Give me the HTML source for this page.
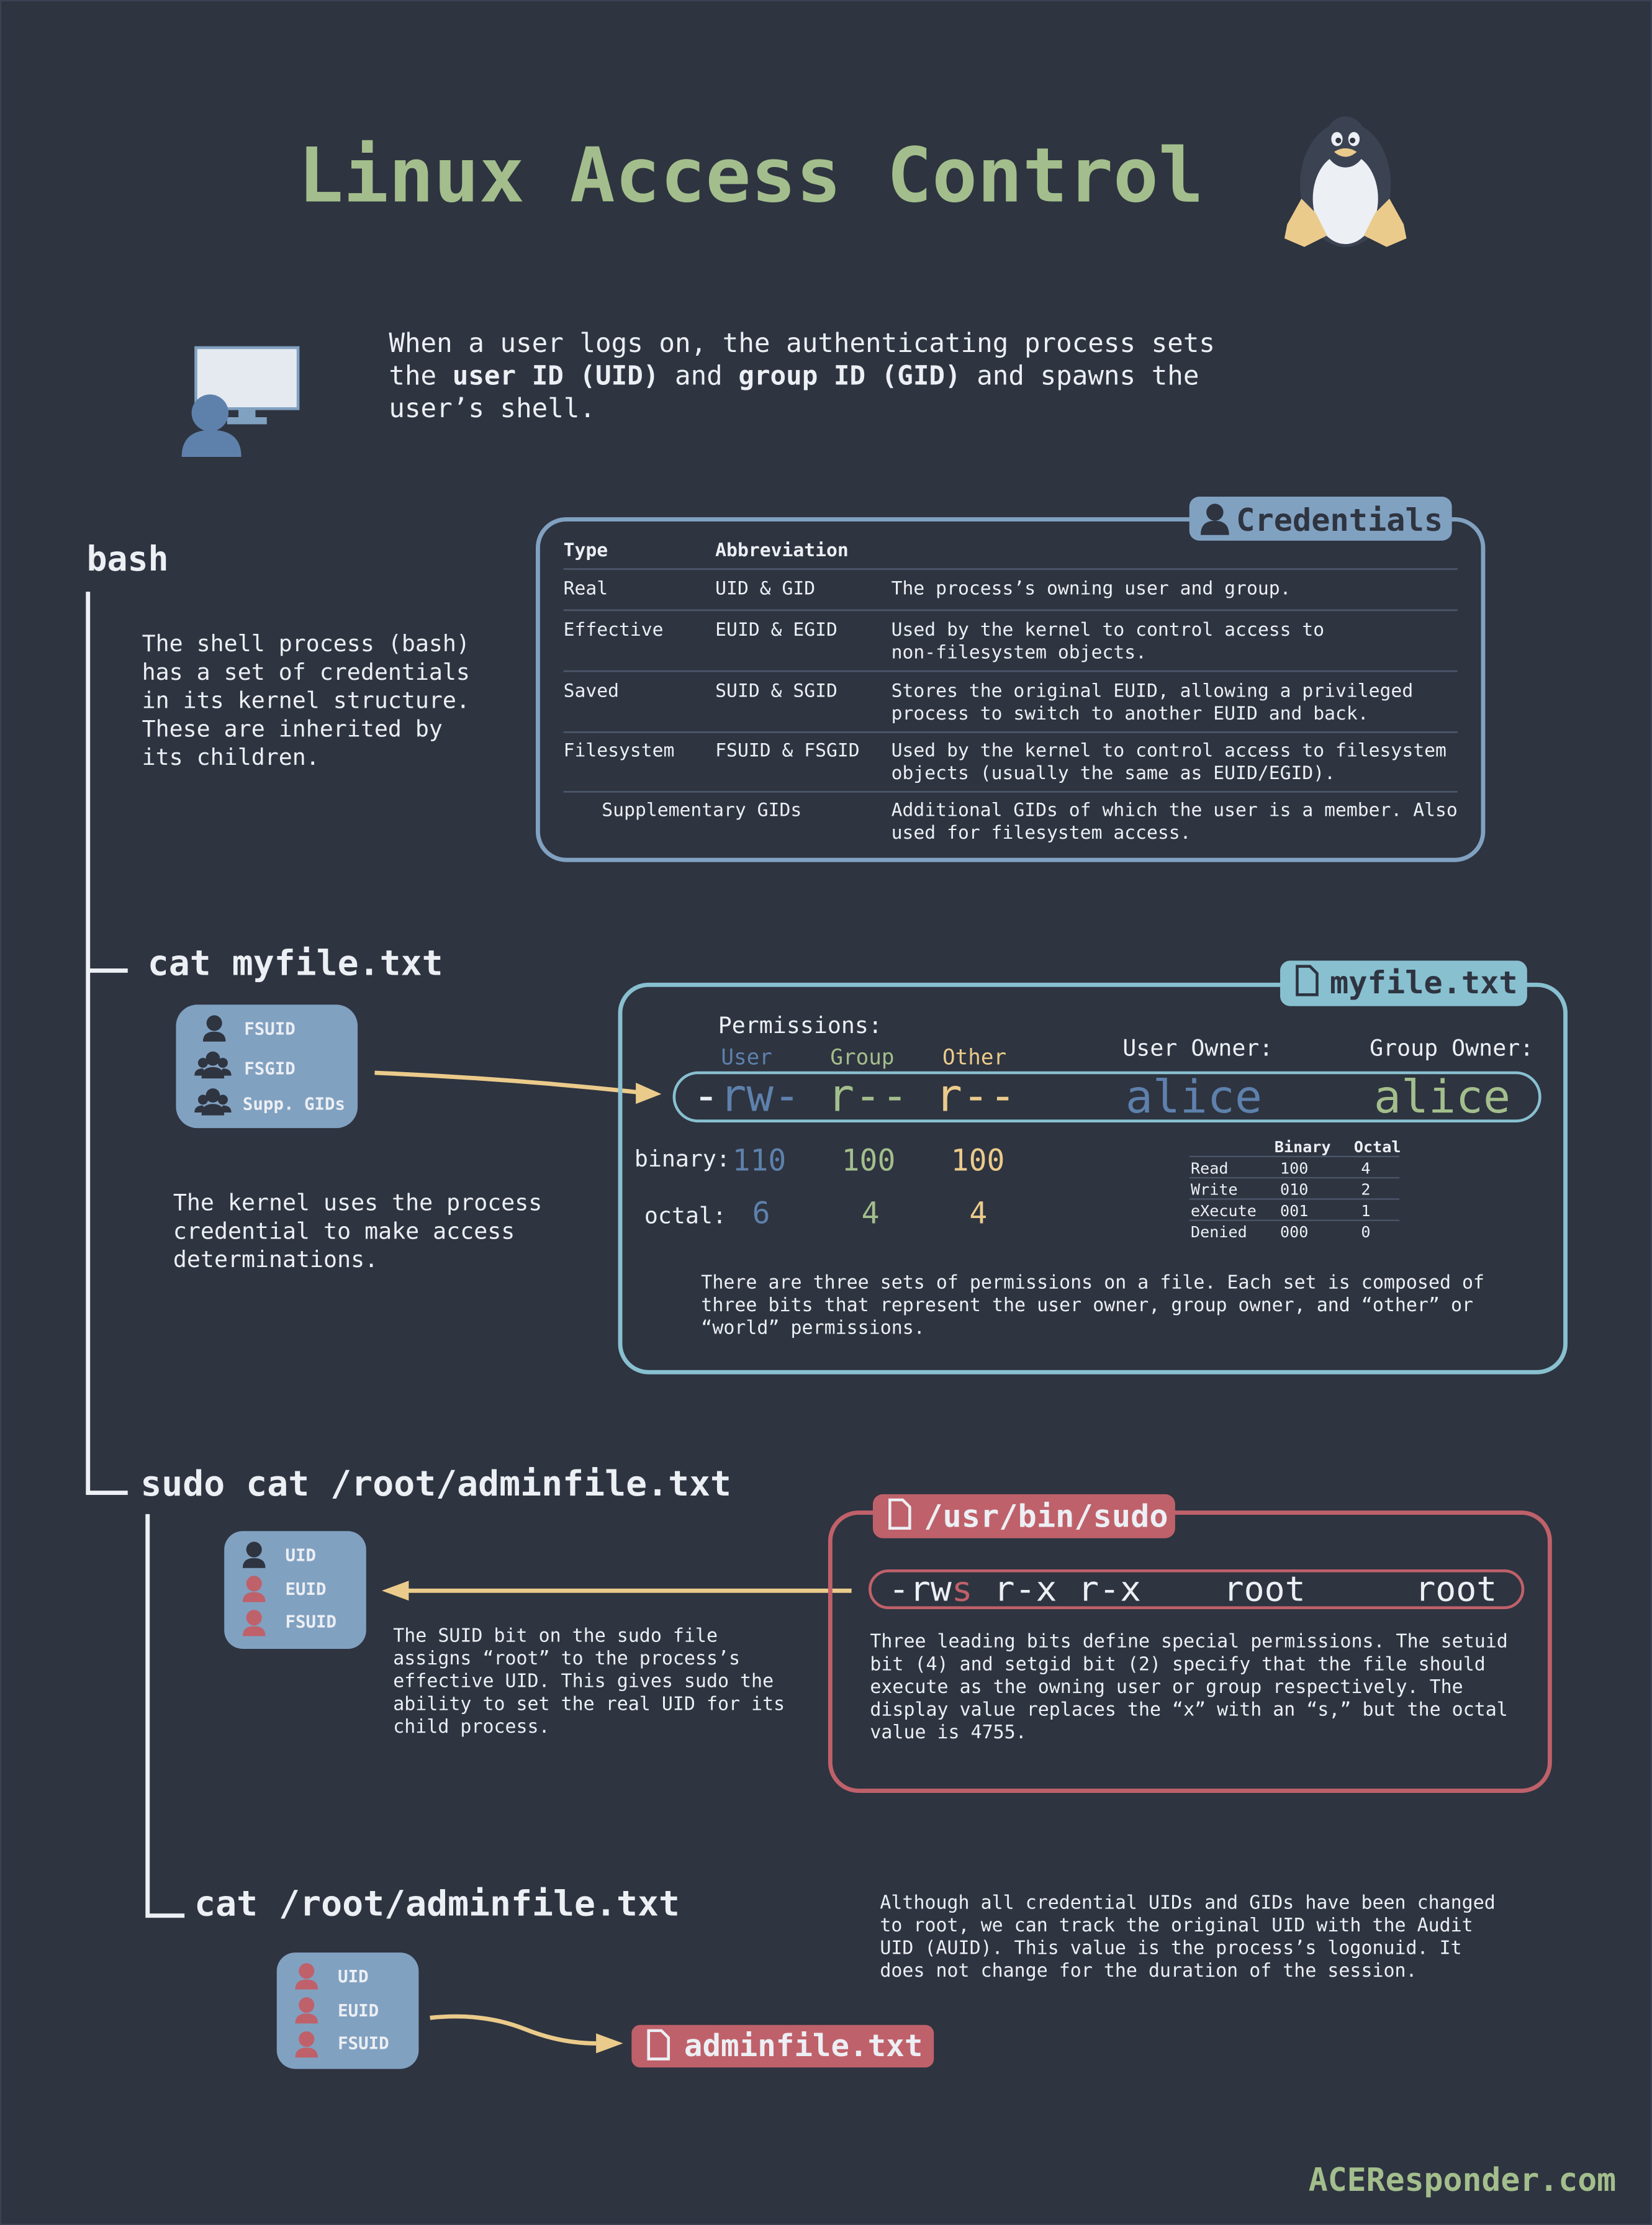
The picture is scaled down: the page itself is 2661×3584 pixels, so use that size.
<!DOCTYPE html>
<html><head><meta charset="utf-8"><style>
html,body{margin:0;padding:0;background:#2e3440;}
svg{display:block}
text{font-family:"DejaVu Sans Mono","Liberation Mono",monospace;fill:#eceff4;}
</style></head><body>
<svg width="2661" height="3584" viewBox="0 0 1164 1568" preserveAspectRatio="none" xmlns="http://www.w3.org/2000/svg">
<rect x="0" y="0" width="1164" height="1568" fill="#2e3440"/>
<rect x="0.5" y="0.5" width="1163" height="1567" fill="none" stroke="#3b4252" stroke-width="1"/>

<text x="210" y="142" font-size="53" font-weight="bold" style="fill:#a3be8c">Linux Access Control</text>

<g transform="translate(905,78)">
<ellipse cx="43" cy="52" rx="32" ry="44" fill="#3b4252"/>
<ellipse cx="43" cy="62" rx="23" ry="32" fill="#eceff4"/>
<ellipse cx="43" cy="22" rx="15" ry="18" fill="#3b4252"/>
<ellipse cx="37" cy="20" rx="4" ry="5" fill="#eceff4"/><ellipse cx="49" cy="20" rx="4" ry="5" fill="#eceff4"/>
<circle cx="38" cy="21" r="2" fill="#2e3440"/><circle cx="48" cy="21" r="2" fill="#2e3440"/>
<path d="M35 29 Q43 24 51 29 Q43 36 35 29Z" fill="#ebcb8b"/>
<path d="M2 80 L12 62 L22 72 L30 88 L14 96 L0 90Z" fill="#ebcb8b"/>
<path d="M84 80 L74 62 L64 72 L56 88 L72 96 L86 90Z" fill="#ebcb8b"/>
</g>

<g>
<rect x="138" y="245" width="72" height="43" fill="#e5e9f0" stroke="#81a1c1" stroke-width="2"/>
<rect x="168" y="288" width="12" height="7" fill="#81a1c1"/>
<rect x="160" y="294" width="28" height="5" fill="#81a1c1"/>
<circle cx="148" cy="291" r="13" fill="#5e81ac"/>
<path d="M128 322 Q128 303 149 303 Q170 303 170 322Z" fill="#5e81ac"/>
</g>
<text x="274" y="248" font-size="18.6">When a user logs on, the authenticating process sets</text>
<text x="274" y="271" font-size="18.6">the <tspan font-weight="bold">user ID (UID)</tspan> and <tspan font-weight="bold">group ID (GID)</tspan> and spawns the</text>
<text x="274" y="294" font-size="18.6">user’s shell.</text>

<g stroke="#eceff4" stroke-width="3" fill="none">
<path d="M62 417 V1052 H90"/>
<path d="M62 684 H90"/>
<path d="M104 1067 V1350 H130"/>
</g>

<text x="61" y="402" font-size="24" font-weight="bold">bash</text>
<text x="100" y="459" font-size="16">The shell process (bash)</text>
<text x="100" y="479" font-size="16">has a set of credentials</text>
<text x="100" y="499" font-size="16">in its kernel structure.</text>
<text x="100" y="519" font-size="16">These are inherited by</text>
<text x="100" y="539" font-size="16">its children.</text>

<rect x="379" y="366" width="666" height="240" rx="20" fill="none" stroke="#81a1c1" stroke-width="3"/>
<rect x="838" y="350" width="185" height="31" rx="7" fill="#81a1c1"/>
<circle cx="856" cy="361" r="6" fill="#2e3440"/><path d="M846 377 Q846 367 856 367 Q866 367 866 377Z" fill="#2e3440"/>
<text x="871" y="374" font-size="22" font-weight="bold" style="fill:#2e3440">Credentials</text>
<g font-size="13">
<text x="397" y="392" font-weight="bold">Type</text><text x="504" y="392" font-weight="bold">Abbreviation</text>
<text x="397" y="419">Real</text><text x="504" y="419">UID &amp; GID</text><text x="628" y="419">The process’s owning user and group.</text>
<text x="397" y="448">Effective</text><text x="504" y="448">EUID &amp; EGID</text><text x="628" y="448">Used by the kernel to control access to</text><text x="628" y="464">non-filesystem objects.</text>
<text x="397" y="491">Saved</text><text x="504" y="491">SUID &amp; SGID</text><text x="628" y="491">Stores the original EUID, allowing a privileged</text><text x="628" y="507">process to switch to another EUID and back.</text>
<text x="397" y="533">Filesystem</text><text x="504" y="533">FSUID &amp; FSGID</text><text x="628" y="533">Used by the kernel to control access to filesystem</text><text x="628" y="549">objects (usually the same as EUID/EGID).</text>
<text x="424" y="575">Supplementary GIDs</text><text x="628" y="575">Additional GIDs of which the user is a member. Also</text><text x="628" y="591">used for filesystem access.</text>
</g>
<g stroke="#4c566a" stroke-width="1.2">
<line x1="397" y1="401" x2="1027" y2="401"/><line x1="397" y1="430" x2="1027" y2="430"/>
<line x1="397" y1="473" x2="1027" y2="473"/><line x1="397" y1="516" x2="1027" y2="516"/>
<line x1="397" y1="558" x2="1027" y2="558"/>
</g>

<text x="104" y="687" font-size="24.7" font-weight="bold">cat myfile.txt</text>
<rect x="124" y="708" width="128" height="87" rx="15" fill="#81a1c1"/>
<g fill="#2e3440">
<circle cx="151" cy="721" r="5.5"/><path d="M143 734 Q143 727 151 727 Q159 727 159 734Z"/>
<circle cx="150" cy="746" r="5"/><circle cx="143" cy="749" r="3.5"/><circle cx="157" cy="749" r="3.5"/><path d="M142 760 Q142 752 150 752 Q158 752 158 760Z"/><path d="M137 758 Q137 753 143 753 L146 758Z"/><path d="M163 758 Q163 753 157 753 L154 758Z"/>
<circle cx="150" cy="772" r="5"/><circle cx="143" cy="775" r="3.5"/><circle cx="157" cy="775" r="3.5"/><path d="M142 786 Q142 778 150 778 Q158 778 158 786Z"/><path d="M137 784 Q137 779 143 779 L146 784Z"/><path d="M163 784 Q163 779 157 779 L154 784Z"/>
</g>
<g font-size="12" font-weight="bold"><text x="172" y="729">FSUID</text><text x="172" y="757">FSGID</text><text x="171" y="782">Supp. GIDs</text></g>
<path d="M264 756 Q360 760 452 770" stroke="#ebcb8b" stroke-width="3" fill="none"/>
<path d="M448 763 L466 771 L448 778Z" fill="#ebcb8b"/>

<text x="122" y="853" font-size="16">The kernel uses the process</text>
<text x="122" y="873" font-size="16">credential to make access</text>
<text x="122" y="893" font-size="16">determinations.</text>

<rect x="437" y="694" width="666" height="273" rx="20" fill="none" stroke="#88c0d0" stroke-width="3"/>
<rect x="902" y="677" width="174" height="32" rx="7" fill="#88c0d0"/>
<path d="M914 681 h9 l5 5 v15 h-14Z" fill="none" stroke="#2e3440" stroke-width="2"/>
<text x="937" y="700" font-size="22" font-weight="bold" style="fill:#2e3440">myfile.txt</text>
<text x="506" y="728" font-size="16">Permissions:</text>
<text x="508" y="750" font-size="15" style="fill:#5e81ac">User</text>
<text x="585" y="750" font-size="15" style="fill:#a3be8c">Group</text>
<text x="664" y="750" font-size="15" style="fill:#ebcb8b">Other</text>
<text x="791" y="744" font-size="16">User Owner:</text>
<text x="965" y="744" font-size="16">Group Owner:</text>
<rect x="475" y="756" width="610" height="34" rx="17" fill="none" stroke="#88c0d0" stroke-width="2"/>
<text x="488" y="783" font-size="31.5" textLength="228" lengthAdjust="spacingAndGlyphs"><tspan>-</tspan><tspan style="fill:#5e81ac">rw-</tspan> <tspan style="fill:#a3be8c">r--</tspan> <tspan style="fill:#ebcb8b">r--</tspan></text>
<text x="793" y="784" font-size="32" style="fill:#5e81ac">alice</text>
<text x="968" y="784" font-size="32" style="fill:#a3be8c">alice</text>
<text x="447" y="822" font-size="16">binary:</text>
<text x="516" y="825" font-size="21" style="fill:#5e81ac">110</text>
<text x="593" y="825" font-size="21" style="fill:#a3be8c">100</text>
<text x="670" y="825" font-size="21" style="fill:#ebcb8b">100</text>
<text x="454" y="862" font-size="16">octal:</text>
<text x="530" y="862" font-size="21" style="fill:#5e81ac">6</text>
<text x="607" y="862" font-size="21" style="fill:#a3be8c">4</text>
<text x="683" y="862" font-size="21" style="fill:#ebcb8b">4</text>
<g font-size="11">
<text x="898" y="812" font-weight="bold">Binary</text><text x="954" y="812" font-weight="bold">Octal</text>
<text x="839" y="827">Read</text><text x="902" y="827">100</text><text x="959" y="827">4</text>
<text x="839" y="842">Write</text><text x="902" y="842">010</text><text x="959" y="842">2</text>
<text x="839" y="857">eXecute</text><text x="902" y="857">001</text><text x="959" y="857">1</text>
<text x="839" y="872">Denied</text><text x="902" y="872">000</text><text x="959" y="872">0</text>
</g>
<g stroke="#4c566a" stroke-width="1"><line x1="838" y1="815" x2="986" y2="815"/><line x1="838" y1="830" x2="986" y2="830"/><line x1="838" y1="845" x2="986" y2="845"/><line x1="838" y1="860" x2="986" y2="860"/></g>
<g font-size="13.1">
<text x="494" y="908">There are three sets of permissions on a file. Each set is composed of</text>
<text x="494" y="924">three bits that represent the user owner, group owner, and “other” or</text>
<text x="494" y="940">“world” permissions.</text>
</g>

<text x="99" y="1054" font-size="24.7" font-weight="bold">sudo cat /root/adminfile.txt</text>
<rect x="158" y="1079" width="100" height="83" rx="13" fill="#81a1c1"/>
<circle cx="179" cy="1092" r="5.5" fill="#2e3440"/><path d="M171 1105 Q171 1098 179 1098 Q187 1098 187 1105Z" fill="#2e3440"/>
<circle cx="179" cy="1116" r="5.5" fill="#bf616a"/><path d="M171 1129 Q171 1122 179 1122 Q187 1122 187 1129Z" fill="#bf616a"/>
<circle cx="179" cy="1140" r="5.5" fill="#bf616a"/><path d="M171 1153 Q171 1146 179 1146 Q187 1146 187 1153Z" fill="#bf616a"/>
<g font-size="12" font-weight="bold"><text x="201" y="1100">UID</text><text x="201" y="1124">EUID</text><text x="201" y="1147">FSUID</text></g>
<line x1="600" y1="1121" x2="285" y2="1121" stroke="#ebcb8b" stroke-width="3"/>
<path d="M288 1114 L269 1121 L288 1128Z" fill="#ebcb8b"/>
<g font-size="13.1">
<text x="277" y="1157">The SUID bit on the sudo file</text>
<text x="277" y="1173">assigns “root” to the process’s</text>
<text x="277" y="1189">effective UID. This gives sudo the</text>
<text x="277" y="1205">ability to set the real UID for its</text>
<text x="277" y="1221">child process.</text>
</g>
<rect x="585" y="1066" width="507" height="196" rx="20" fill="none" stroke="#bf616a" stroke-width="3"/>
<rect x="615" y="1053" width="213" height="31" rx="7" fill="#bf616a"/>
<path d="M627 1057 h9 l5 5 v15 h-14Z" fill="none" stroke="#eceff4" stroke-width="2"/>
<text x="651" y="1076" font-size="22" font-weight="bold">/usr/bin/sudo</text>
<rect x="613" y="1107" width="460" height="26" rx="13" fill="none" stroke="#bf616a" stroke-width="2"/>
<text x="626" y="1128" font-size="24" textLength="178" lengthAdjust="spacingAndGlyphs">-rw<tspan style="fill:#bf616a">s</tspan> r-x r-x</text>
<text x="862" y="1128" font-size="24">root</text>
<text x="997" y="1128" font-size="24">root</text>
<g font-size="13.1">
<text x="613" y="1161">Three leading bits define special permissions. The setuid</text>
<text x="613" y="1177">bit (4) and setgid bit (2) specify that the file should</text>
<text x="613" y="1193">execute as the owning user or group respectively. The</text>
<text x="613" y="1209">display value replaces the “x” with an “s,” but the octal</text>
<text x="613" y="1225">value is 4755.</text>
</g>

<text x="137" y="1350" font-size="24.7" font-weight="bold">cat /root/adminfile.txt</text>
<g font-size="13.1">
<text x="620" y="1345">Although all credential UIDs and GIDs have been changed</text>
<text x="620" y="1361">to root, we can track the original UID with the Audit</text>
<text x="620" y="1377">UID (AUID). This value is the process’s logonuid. It</text>
<text x="620" y="1393">does not change for the duration of the session.</text>
</g>
<rect x="195" y="1376" width="100" height="82" rx="13" fill="#81a1c1"/>
<circle cx="216" cy="1389" r="5.5" fill="#bf616a"/><path d="M208 1402 Q208 1395 216 1395 Q224 1395 224 1402Z" fill="#bf616a"/>
<circle cx="216" cy="1413" r="5.5" fill="#bf616a"/><path d="M208 1426 Q208 1419 216 1419 Q224 1419 224 1426Z" fill="#bf616a"/>
<circle cx="216" cy="1437" r="5.5" fill="#bf616a"/><path d="M208 1450 Q208 1443 216 1443 Q224 1443 224 1450Z" fill="#bf616a"/>
<g font-size="12" font-weight="bold"><text x="238" y="1397">UID</text><text x="238" y="1421">EUID</text><text x="238" y="1444">FSUID</text></g>
<path d="M303 1422 Q340 1418 370 1430 Q395 1440 420 1440" stroke="#ebcb8b" stroke-width="3" fill="none"/>
<path d="M420 1433 L439 1440 L420 1447Z" fill="#ebcb8b"/>
<rect x="445" y="1427" width="213" height="30" rx="6" fill="#bf616a"/>
<path d="M457 1431 h9 l5 5 v15 h-14Z" fill="none" stroke="#eceff4" stroke-width="2"/>
<text x="482" y="1449" font-size="21.5" font-weight="bold">adminfile.txt</text>

<text x="922" y="1544" font-size="22.5" font-weight="bold" style="fill:#a3be8c">ACEResponder.com</text>
</svg>
</body></html>
